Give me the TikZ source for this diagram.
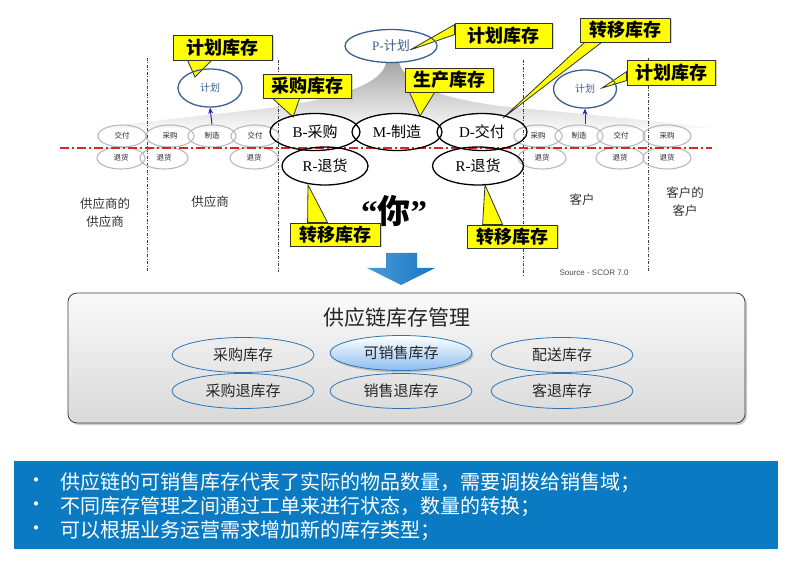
\documentclass[tikz,border=0pt]{standalone}
\usepackage{fontspec}
\setmainfont{Liberation Serif}
\newfontfamily\cjk{Noto Sans CJK SC}
\newfontfamily\sansf{Liberation Sans}
\usetikzlibrary{calc,shadows,shapes.geometric,arrows.meta}
\pgfdeclarelayer{bg}
\pgfdeclarelayer{mid}
\pgfsetlayers{bg,mid,main}
\definecolor{callY}{HTML}{FFFF00}
\definecolor{planBlue}{RGB}{60,95,145}
\definecolor{ellBlue}{RGB}{46,117,182}
\definecolor{panelBlue}{RGB}{10,123,194}
\definecolor{redLine}{RGB}{210,40,40}
\definecolor{arrBlue}{RGB}{20,120,200}
\begin{document}
\begin{tikzpicture}[x=1pt,y=-1pt,
  smallell/.style={ellipse, draw=gray!55, line width=1.1pt, minimum width=48pt, minimum height=22pt, inner sep=0pt, font=\cjk\fontsize{7.5}{8}\selectfont, text=black!85},
  bigell/.style={ellipse, draw=black, line width=1.3pt, minimum width=90pt, minimum height=37pt, inner sep=0pt, font=\fontsize{15}{16}\selectfont},
  planell/.style={ellipse, draw=planBlue, line width=1.3pt, inner sep=0pt, text=planBlue},
  callout/.style={rectangle, fill=callY, draw=black!80, line width=0.8pt, inner sep=0pt, font=\cjk\bfseries\fontsize{18}{19}\selectfont, minimum height=24pt, minimum width=89pt, drop shadow={shadow xshift=1.5pt, shadow yshift=-1.5pt, opacity=0.35}},
  ptr/.style={fill=callY, draw=black!80, line width=0.8pt, line join=miter},
  vline/.style={draw=black!75, line width=0.6pt, dash pattern=on 3pt off 1.5pt on 1pt off 1.5pt},
  region/.style={font=\cjk\fontsize{12.5}{18}\selectfont, text=black!80, align=center},
  upar/.style={draw={rgb,255:red,40;green,40;blue,170}, line width=1pt, -{Stealth[length=6pt,width=5pt]}},
  invell/.style={ellipse, draw=ellBlue, line width=0.8pt, minimum width=142pt, minimum height=35pt, inner sep=0pt, font=\cjk\fontsize{15}{16}\selectfont, text=black!85},
  bullettext/.style={anchor=west, text=white, font=\cjk\fontsize{20}{22}\selectfont, inner sep=0pt}
]
\useasboundingbox (0,0) rectangle (800,561);

% ---------- small grey process ellipses ----------
\node[smallell] (la1) at (122,136) {交付};
\node[smallell] (la2) at (170,136) {采购};
\node[smallell] (la3) at (212,136) {制造};
\node[smallell] (la4) at (255,136) {交付};
\node[smallell] (lb1) at (121,158) {退货};
\node[smallell] (lb2) at (164,158) {退货};
\node[smallell] (lb4) at (254,158) {退货};
\node[smallell] (ra1) at (538,136) {采购};
\node[smallell] (ra2) at (579,136) {制造};
\node[smallell] (ra3) at (621,136) {交付};
\node[smallell] (ra4) at (667,136) {采购};
\node[smallell] (rb1) at (542,158) {退货};
\node[smallell] (rb3) at (620,158) {退货};
\node[smallell] (rb4) at (667,158) {退货};

% ---------- red dash-dot line ----------
\coordinate (redL) at (60,148);
\coordinate (redR) at (712,148);
\draw[redLine, line width=1.4pt, dash pattern=on 9pt off 3pt on 2pt off 3pt] (redL) -- (redR);

% ---------- big SCOR ellipses ----------
\node[bigell] (B) at (315,132) {B-{\cjk 采购}};
\node[bigell] (M) at (397,132) {M-{\cjk 制造}};
\node[bigell] (D) at (482,132) {D-{\cjk 交付}};
\node[bigell, minimum width=86pt, minimum height=38pt] (RL) at (325,166) {R-{\cjk 退货}};
\node[bigell, minimum width=91pt, minimum height=38pt] (RR) at (478,166) {R-{\cjk 退货}};

% ---------- background: fan and guide lines ----------
\begin{pgfonlayer}{bg}
\fill[white] (0,0) rectangle (800,561);
\shade[top color=gray!70, bottom color=gray!6]
  (386,62) .. controls (384,85) and (330,100) .. (270,108)
  .. controls (200,116) and (140,122) .. (100,128) -- (712,128)
  .. controls (650,120) and (560,112) .. (500,106)
  .. controls (440,98) and (405,85) .. (399,62) -- cycle;
\fill[white] (B.center) ellipse [x radius=44, y radius=18];
\fill[white] (M.center) ellipse [x radius=44, y radius=18];
\fill[white] (D.center) ellipse [x radius=44, y radius=18];
\coordinate (v1t) at (147,58);  \coordinate (v1b) at (147,272);
\coordinate (v2t) at (278,60);  \coordinate (v2b) at (278,272);
\coordinate (v3t) at (523,60);  \coordinate (v3b) at (523,276);
\coordinate (v4t) at (648,58);  \coordinate (v4b) at (648,272);
\draw[vline] (v1t) -- (v1b);
\draw[vline] (v2t) -- (v2b);
\draw[vline] (v3t) -- (v3b);
\draw[vline] (v4t) -- (v4b);
\end{pgfonlayer}

% ---------- plan ellipses ----------
\node[planell, minimum width=92pt, minimum height=33pt, font=\fontsize{13}{14}\selectfont] (P) at (391,46) {P-{\cjk 计划}};
\node[planell, minimum width=64pt, minimum height=38pt, font=\cjk\fontsize{10}{11}\selectfont] (PL) at (210,88) {计划};
\node[planell, minimum width=63pt, minimum height=38pt, font=\cjk\fontsize{10}{11}\selectfont] (PR) at (585,89) {计划};
\draw[upar] (la3.north) -- (PL.south);
\draw[upar] (ra2.north -| PR.south) -- (PR.south);

% ---------- region labels ----------
\node[region] (sup2) at (105,213) {供应商的\\供应商};
\node[region] (sup1) at (210,202) {供应商};
\node[region] (cus1) at (582,200) {客户};
\node[region] (cus2) at (685,202) {客户的\\客户};
\node[font=\bfseries\fontsize{33}{35}\selectfont, inner sep=0pt] (you) at (394,211) {“{\cjk\bfseries 你}”};
\node[font=\sansf\fontsize{8}{9}\selectfont, text=black!70, inner sep=0pt] (src) at (594,273) {Source - SCOR 7.0};

% ---------- callouts ----------
\node[callout, minimum width=99pt, minimum height=25pt] (c1) at (222.5,47.5) {计划库存};
\node[callout, minimum width=88pt] (c2) at (307,86) {采购库存};
\node[callout, minimum width=97pt, minimum height=25pt] (c3) at (503.5,35.5) {计划库存};
\node[callout, minimum width=88pt] (c4) at (449,80) {生产库存};
\node[callout, minimum width=90pt] (c5) at (625,30) {转移库存};
\node[callout, minimum width=88pt, minimum height=25pt] (c6) at (671,72.5) {计划库存};
\node[callout, minimum width=90pt, minimum height=23pt] (c7) at (335,234.5) {转移库存};
\node[callout, minimum width=90pt, minimum height=23pt] (c8) at (512,236.5) {转移库存};

\coordinate (t1) at (195,77);
\coordinate (t2) at (293,117);
\coordinate (t3) at (410,50);
\coordinate (t4) at (420,116);
\coordinate (t5) at (503,118);
\coordinate (t6) at (602,88);
\coordinate (t7) at (308,185);
\coordinate (t8) at (485,185);

\begin{pgfonlayer}{mid}
\draw[ptr] ($(c1.south west)+(15,0)$) -- (t1) -- ($(c1.south west)+(39,0)$) -- cycle;
\draw[ptr] ($(c2.south west)+(10,0)$) -- (t2) -- ($(c2.south west)+(37,0)$) -- cycle;
\draw[ptr] ($(c3.north west)+(0,2)$) -- (t3) -- ($(c3.north west)+(0,12)$) -- cycle;
\draw[ptr] ($(c4.south west)+(5,0)$) -- (t4) -- ($(c4.south west)+(30,0)$) -- cycle;
\draw[ptr] ($(c5.south west)+(5,0)$) -- (t5) -- ($(c5.south west)+(22,0)$) -- cycle;
\draw[ptr] ($(c6.north west)+(0,12)$) -- (t6) -- ($(c6.north west)+(0,21)$) -- cycle;
\draw[ptr] ($(c7.north west)+(18,0)$) -- (t7) -- ($(c7.north west)+(38,0)$) -- cycle;
\draw[ptr] ($(c8.north west)+(16,0)$) -- (t8) -- ($(c8.north west)+(36,0)$) -- cycle;
\end{pgfonlayer}

% ---------- blue down arrow ----------
\shade[left color=arrBlue!75, right color=arrBlue]
  (386,253) -- (417,253) -- (417,268) -- (435,268) -- (401,285) -- (367,268) -- (386,268) -- cycle;

% ---------- management box ----------
\node[rectangle, rounded corners=9pt, draw=black!75, line width=0.8pt,
      top color=gray!4, bottom color=gray!30, minimum width=677pt, minimum height=130pt,
      drop shadow={shadow xshift=2pt, shadow yshift=-2pt, opacity=0.4}] (box) at (406.5,358) {};
\node[font=\cjk\fontsize{21}{22}\selectfont, text=black!85] (boxtitle) at (397,318) {供应链库存管理};
\node[invell] (e1) at (243,355) {采购库存};
\node[invell, top color=white, bottom color={rgb,255:red,140;green,190;blue,240}, drop shadow={shadow xshift=1.5pt, shadow yshift=-2pt, opacity=0.4}] (e2) at (401,353) {可销售库存};
\node[invell] (e3) at (562,355) {配送库存};
\node[invell] (e4) at (243,391) {采购退库存};
\node[invell] (e5) at (401,391) {销售退库存};
\node[invell] (e6) at (562,391) {客退库存};

% ---------- bottom panel ----------
\node[rectangle, fill=panelBlue, minimum width=764pt, minimum height=88pt, inner sep=0pt] (panel) at (395.5,505) {};
\node[bullettext] (b1d) at (26,483) {•};
\node[bullettext] (b2d) at (26,507) {•};
\node[bullettext] (b3d) at (26,531) {•};
\node[bullettext] (b1) at (60,483) {供应链的可销售库存代表了实际的物品数量，需要调拨给销售域；};
\node[bullettext] (b2) at (60,507) {不同库存管理之间通过工单来进行状态，数量的转换；};
\node[bullettext] (b3) at (60,531) {可以根据业务运营需求增加新的库存类型；};
\end{tikzpicture}
\end{document}
